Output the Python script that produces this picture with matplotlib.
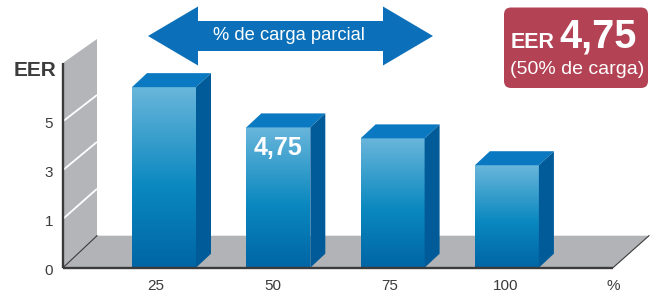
import matplotlib
matplotlib.use('Agg')
import matplotlib.pyplot as plt
import numpy as np
from matplotlib.patches import Polygon, FancyBboxPatch
from matplotlib.colors import LinearSegmentedColormap

plt.rcParams['font.family'] = ['Liberation Sans', 'DejaVu Sans']

# ---- data ----
categories = ['25', '50', '75', '100']
eer_values = [6.4, 4.75, 4.3, 3.2]
y_tick_values = [-1, 1, 3, 5]
y_tick_labels = ['0', '1', '3', '5']
highlight_index = 1
highlight_label = '4,75'
x_unit_label = '%'
y_axis_label = 'EER'
arrow_text = '% de carga parcial'
box_title = 'EER'
box_value = '4,75'
box_sub = '(50% de carga)'

# ---- geometry / style ----
W, H = 652, 293
PX_X = 114.3          # px per category step
PX_Y = 24.4           # px per EER unit
X0_PX = 164.0         # px of first category centre
BASE = -1.0           # floor level (labelled "0")
BASE_PX = 267.7

def xlim_from_px():
    return (-X0_PX / PX_X, (W - X0_PX) / PX_X)

def ylim_from_px():
    return (BASE - (H - BASE_PX) / PX_Y, BASE + BASE_PX / PX_Y)

fig = plt.figure(figsize=(W / 100, H / 100), dpi=100)
ax = fig.add_axes([0, 0, 1, 1])
ax.axis('off')

bar_w = 64 / PX_X
bdx, bdy = 15 / PX_X, 14 / PX_Y
x_wall = (63 - X0_PX) / PX_X
wdx = 34 / PX_X
fdy = 32 / PX_Y
x_right = (613 - X0_PX) / PX_X
rdx = 36 / PX_X
wall_top = BASE + (BASE_PX - 63) / PX_Y
k = 197 / 205.0

def back_y(v):
    return BASE + fdy + (v - BASE) * k

gray = '#b3b5b8'
dark = '#3b3b3b'

# wall
ax.add_patch(Polygon([(x_wall, BASE), (x_wall, wall_top),
                      (x_wall + wdx, back_y(wall_top)), (x_wall + wdx, BASE + fdy)],
                     closed=True, facecolor=gray, edgecolor='none', zorder=1))
# floor
ax.add_patch(Polygon([(x_wall, BASE), (x_right, BASE),
                      (x_right + rdx, BASE + fdy), (x_wall + wdx, BASE + fdy)],
                     closed=True, facecolor='#b1b3b6', edgecolor='none', zorder=1))
# wall grid lines
for v in y_tick_values[1:]:
    ax.plot([x_wall, x_wall + wdx], [v, back_y(v)], color='white', lw=1.3,
            solid_capstyle='butt', zorder=2)
# frame lines
ax.plot([x_wall, x_wall + wdx], [BASE, BASE + fdy], color=dark, lw=0.8, zorder=2)
ax.plot([x_right, x_right + rdx], [BASE, BASE + fdy], color=dark, lw=0.8, zorder=2)

# bars
cmap = LinearSegmentedColormap.from_list(
    'barfront', [(0.0, '#0065a5'), (0.45, '#0a88bf'), (1.0, '#69b6db')])
grad = np.linspace(0, 1, 256).reshape(-1, 1)
for i, v in enumerate(eer_values):
    x0, x1 = i - bar_w / 2, i + bar_w / 2
    ax.imshow(grad, cmap=cmap, origin='lower', aspect='auto',
              extent=(x0, x1, BASE, v), zorder=3, interpolation='bilinear')
    ax.add_patch(Polygon([(x0, v), (x1, v), (x1 + bdx, v + bdy), (x0 + bdx, v + bdy)],
                         closed=True, facecolor='#0a79c1', edgecolor='none', zorder=3))
    ax.add_patch(Polygon([(x1, BASE), (x1, v), (x1 + bdx, v + bdy), (x1 + bdx, BASE + bdy)],
                         closed=True, facecolor='#005b98', edgecolor='none', zorder=3))

ax.plot([x_wall, x_wall], [BASE, wall_top], color=dark, lw=1.7, zorder=4,
        solid_capstyle='butt')
ax.plot([x_wall, x_right], [BASE, BASE], color=dark, lw=1.7, zorder=4,
        solid_capstyle='butt')

# highlight value on bar
ax.annotate(highlight_label, xy=(highlight_index, eer_values[highlight_index]),
            xytext=(0, -14.5), textcoords='offset points', ha='center', va='center',
            color='white', fontsize=18, fontweight='bold', zorder=5)

# tick labels
tick_color = '#3c3c3c'
for tv, tl in zip(y_tick_values, y_tick_labels):
    ax.text(x_wall - 10 / PX_X, tv - 0.12, tl, ha='right', va='center',
            fontsize=11, color=tick_color)
label_y = BASE - (286 - BASE_PX) / PX_Y
label_spread = 116.7 / PX_X
label_shift = -8 / PX_X
for i, c in enumerate(categories):
    ax.text(i * label_spread + label_shift, label_y, c, ha='center', va='center',
            fontsize=11, color=tick_color)
ax.text(x_right, label_y, x_unit_label, ha='center', va='center', fontsize=11,
        color=tick_color)
ax.text(x_wall - 7 / PX_X, BASE + (BASE_PX - 71) / PX_Y, y_axis_label, ha='right',
        va='center', fontsize=15, fontweight='bold', color=tick_color)

ax.set_xlim(*xlim_from_px())
ax.set_ylim(*ylim_from_px())

# ---- overlay in pixel coordinates for decorations ----
ov = fig.add_axes([0, 0, 1, 1], zorder=10)
ov.set_xlim(0, W)
ov.set_ylim(H, 0)
ov.axis('off')
ov.patch.set_alpha(0)

cy = 36
arrow_pts = [(148, cy), (198, cy - 29.5), (198, cy - 15), (383, cy - 15), (383, cy - 29.5),
             (433, cy), (383, cy + 29.5), (383, cy + 15), (198, cy + 15), (198, cy + 29.5)]
ov.add_patch(Polygon(arrow_pts, closed=True, facecolor='#0b70b9', edgecolor='none'))
ov.text(289, cy - 1, arrow_text, ha='center', va='center', color='white', fontsize=13.2)

ov.add_patch(FancyBboxPatch((504, 7.5), 144, 80.5,
                            boxstyle='round,pad=0,rounding_size=7',
                            facecolor='#b24254', edgecolor='none'))
ov.text(510.5, 48, box_title, ha='left', va='baseline', color='white', fontsize=15.5,
        fontweight='bold')
ov.text(559, 48, box_value, ha='left', va='baseline', color='white', fontsize=28.5,
        fontweight='bold')
ov.text(577.5, 69.5, box_sub, ha='center', va='center', color='white', fontsize=14)

fig.savefig('out.png', dpi=100)
